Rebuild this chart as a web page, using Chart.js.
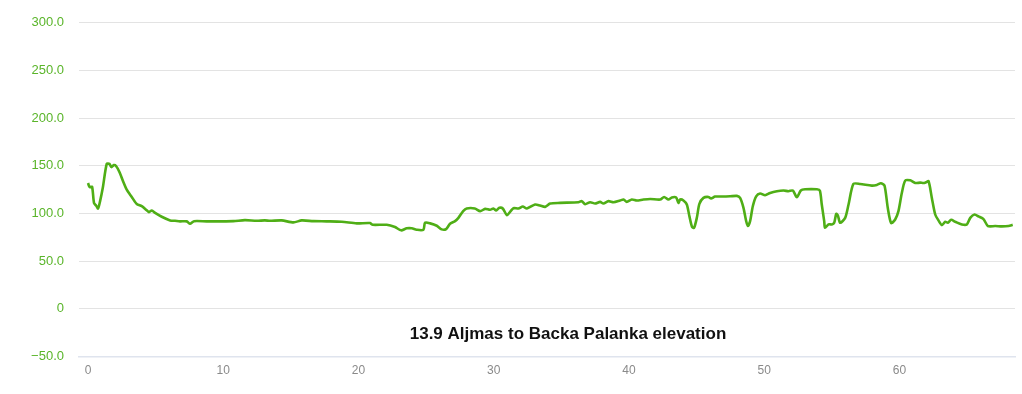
<!DOCTYPE html>
<html>
<head>
<meta charset="utf-8">
<script src="https://cdn.jsdelivr.net/npm/chart.js@4/dist/chart.umd.min.js"></script>
<style>
html,body{margin:0;padding:0;background:#fff;}
#wrap{width:1022px;height:394px;position:relative;}
</style>
</head>
<body>
<div id="wrap"><canvas id="c" width="1022" height="394"></canvas></div>
<script>
const chartTitle = "13.9 Aljmas to Backa Palanka elevation";
const distanceKm = [0,0.07,0.15,0.3,0.44,0.59,0.74,0.89,1.09,1.38,1.58,1.73,1.9,2.07,2.32,2.61,2.86,3.23,3.6,3.97,4.34,4.51,4.71,4.96,5.45,6.07,6.43,6.8,7.3,7.54,7.84,8.77,9.76,10.75,11.6,12.46,13.07,13.46,14.32,15.19,15.8,16.67,17.64,18.76,19.87,20.85,21.05,22.09,22.7,23.15,23.57,23.94,24.3,24.8,24.92,25.3,25.79,26.15,26.48,26.77,27.14,27.39,27.74,28.0,28.6,29.0,29.36,29.73,29.98,30.18,30.42,30.67,30.97,31.21,31.46,31.83,32.15,32.45,33.06,33.43,33.8,34.17,34.91,36.27,36.51,36.76,37.13,37.5,37.87,38.11,38.48,38.86,39.35,39.6,39.84,40.21,40.58,41.07,41.57,42.31,42.6,42.92,43.17,43.49,43.66,43.79,44.03,44.28,44.47,44.67,44.82,45.02,45.21,45.51,45.88,46.07,46.37,46.99,47.49,47.98,48.22,48.47,48.67,48.79,48.96,49.16,49.41,49.7,50.07,50.44,50.94,51.43,51.8,52.12,52.42,52.71,53.03,53.9,54.12,54.26,54.44,54.5,54.76,55.0,55.18,55.33,55.45,55.62,55.99,56.24,56.6,57.1,57.96,58.33,58.63,58.9,59.14,59.39,59.69,59.93,60.18,60.43,60.8,61.17,61.54,61.78,61.96,62.16,62.4,62.65,62.89,63.14,63.39,63.58,63.83,64.13,64.62,64.99,65.24,65.56,65.85,66.22,66.55,67.09,67.58,68.07,68.38];
const elevationM = [132,129,127.5,128,111,108.4,105.3,113,127,152,152,148.7,150.8,149.8,143.5,133,125,117.4,110,107.7,103.5,101.5,103.2,100.7,96.6,92.8,92.4,91.8,91.8,89.3,92,91.8,91.8,92,93.1,92.4,92.8,92.4,92.8,90.7,92.8,92,91.8,91.4,89.7,90,88.2,88.2,85.8,82.4,84.5,84.5,83,83,90.3,89.7,87.2,83.4,83.7,89.3,92,95.5,102.5,105.3,105.3,102.5,104.9,103.9,105.3,103.2,106,105.3,98.3,101.8,105.6,105.3,107.4,105.3,109.5,108.4,107,110.5,111.2,111.9,113,109.8,111.9,110.5,112.2,110.5,113,111.9,113.7,114.7,112.2,114.7,113.7,114.7,115.3,114.7,117.4,114.7,116.8,116.8,111.2,114.7,113.7,109.5,97.3,85.8,85.1,95.5,110.1,116.4,117.4,115.7,117.8,117.8,118.1,118.5,116.4,106,92,86.9,92,107.7,118.1,121,119.2,121.6,123.4,124.1,123.4,124.1,117.1,124.1,125.4,125.4,124.1,109.5,92,85.1,88.6,88.6,90.3,99.7,98,90.3,95.5,109.5,131,131,129.3,130,131.7,129.3,106,90,93.8,102.5,121.6,134.5,134.8,132,132.4,132,132.7,133.8,116.4,99,92.8,87.9,91.4,90.3,93.4,91.4,88.6,88.6,95.5,99,97,94.2,86.9,86.9,86.5,86.9,88.2];
const xTickValues = [0,10,20,30,40,50,60];
const yTickValues = [-50,0,50,100,150,200,250,300];

const lineColor = '#4fae16';
const tickGreen = '#5ab52a';

const titlePlugin = {
  id: 'innerTitle',
  afterDraw(chart) {
    const ctx = chart.ctx;
    ctx.save();
    ctx.font = 'bold 17px "Liberation Sans", Arial, sans-serif';
    ctx.fillStyle = '#111';
    ctx.textAlign = 'center';
    ctx.textBaseline = 'middle';
    ctx.fillText(chartTitle, 568, 334);
    ctx.restore();
  }
};

new Chart(document.getElementById('c'), {
  type: 'line',
  data: {
    datasets: [{
      data: distanceKm.map((d, i) => ({x: d, y: elevationM[i]})),
      borderColor: lineColor,
      borderWidth: 2.6,
      pointRadius: 0,
      fill: false,
      tension: 0.25
    }]
  },
  options: {
    responsive: false,
    animation: false,
    devicePixelRatio: 1,
    layout: {padding: {top: 18, right: 7, bottom: 9, left: 0}},
    plugins: {legend: {display: false}, tooltip: {enabled: false}, title: {display: false}},
    scales: {
      x: {
        type: 'linear',
        min: -0.67,
        max: 68.55,
        afterBuildTicks: (s) => { s.ticks = xTickValues.map(v => ({value: v})); },
        grid: {display: false, drawTicks: false},
        border: {display: true, color: '#dfe4ee', width: 1.5},
        ticks: {
          color: '#8a8a8a',
          padding: 7,
          font: {family: '"Liberation Sans", Arial, sans-serif', size: 12},
          maxRotation: 0,
          callback: (v) => String(v)
        }
      },
      y: {
        min: -50,
        max: 300,
        afterBuildTicks: (s) => { s.ticks = yTickValues.map(v => ({value: v})); },
        afterFit: (s) => { s.width = 79; },
        grid: {color: '#e3e3e3', lineWidth: 1, drawTicks: false},
        border: {display: false},
        ticks: {
          color: tickGreen,
          padding: 15,
          font: {family: '"Liberation Sans", Arial, sans-serif', size: 13},
          callback: (v) => v === 0 ? '0' : (v < 0 ? '\u2212' + Math.abs(v).toFixed(1) : v.toFixed(1))
        }
      }
    }
  },
  plugins: [titlePlugin]
});
</script>
</body>
</html>
